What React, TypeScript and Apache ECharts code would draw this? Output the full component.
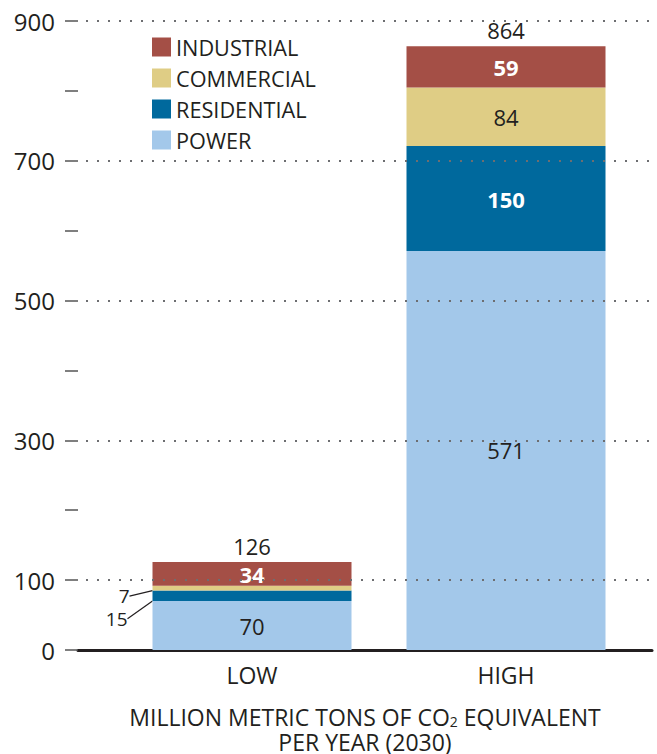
import React, { useEffect, useRef } from 'react';
import * as echarts from 'echarts';

const categories = ['LOW', 'HIGH'];
const power = [70, 571];
const residential = [15, 150];
const commercial = [7, 84];
const industrial = [34, 59];
const yLabelledTicks = [0, 100, 300, 500, 700, 900];
const gridLineValues = [100, 300, 500, 700, 900];
const legendOrder = ['INDUSTRIAL', 'COMMERCIAL', 'RESIDENTIAL', 'POWER'];
const titleLine1 = 'MILLION METRIC TONS OF CO{sub|2} EQUIVALENT';
const titleLine2 = 'PER YEAR (2030)';

const totals = categories.map(
  (_, i) => power[i] + residential[i] + commercial[i] + industrial[i]
);

const FONT = '"Open Sans", "Noto Sans", sans-serif';
const DARK = '#231f20';
const C_POWER = '#a3c8ea';
const C_RES = '#00699d';
const C_COM = '#dfcd85';
const C_IND = '#a44f46';

const BAR_W = 199;

export default function App() {
  const ref = useRef<HTMLDivElement>(null);
  useEffect(() => {
    if (!ref.current) return;
    const chart = echarts.init(ref.current, undefined, { renderer: 'svg' });
    const outsideLabel = (dist: number) => ({
      show: true,
      position: 'left',
      distance: dist,
      color: DARK,
      fontWeight: 'normal',
      fontSize: 19,
      fontFamily: FONT,
    });
    const leader = { show: true, lineStyle: { color: DARK, width: 1.2 } };
    const titleStyle = {
      align: 'center',
      verticalAlign: 'middle',
      fill: DARK,
      fontSize: 23,
      fontFamily: FONT,
    };
    const option: any = {
      animation: false,
      textStyle: { fontFamily: FONT },
      grid: [
        { left: 78, right: 5, top: 21, bottom: 104 },
        { left: 125, right: 24, top: 21, bottom: 104 },
      ],
      xAxis: [
        {
          gridIndex: 0,
          type: 'value',
          min: 0,
          max: 1,
          axisLine: { show: true, onZero: false, lineStyle: { color: DARK, width: 3 } },
          axisTick: { show: false },
          axisLabel: { show: false },
          splitLine: { show: false },
        },
        {
          gridIndex: 1,
          type: 'category',
          data: categories,
          axisLine: { show: false },
          axisTick: { show: false },
          axisLabel: { fontSize: 23, color: DARK, margin: 13, fontFamily: FONT },
        },
      ],
      yAxis: [
        {
          gridIndex: 0,
          type: 'value',
          min: 0,
          max: 900,
          interval: 100,
          axisLine: { show: false },
          axisTick: { show: true, length: 13, lineStyle: { color: '#555', width: 1.5 } },
          axisLabel: {
            fontSize: 24,
            color: DARK,
            margin: 23,
            fontFamily: FONT,
            formatter: (v: number) => (yLabelledTicks.includes(v) ? String(v) : ''),
          },
          splitLine: { show: false },
        },
        { gridIndex: 1, type: 'value', min: 0, max: 900, show: false },
      ],
      legend: {
        data: legendOrder,
        orient: 'vertical',
        left: 152,
        top: 36,
        itemWidth: 19,
        itemHeight: 19,
        itemGap: 9,
        padding: 0,
        icon: 'rect',
        selectedMode: false,
        textStyle: { fontSize: 21.7, color: DARK, fontFamily: FONT },
      },
      graphic: [
        {
          type: 'text',
          x: 365,
          y: 717,
          style: {
            ...titleStyle,
            text: titleLine1,
            rich: {
              sub: { fontSize: 14, fontFamily: FONT, fill: DARK, verticalAlign: 'bottom', lineHeight: 16 },
            },
          },
        },
        {
          type: 'text',
          x: 365,
          y: 742,
          style: { ...titleStyle, text: titleLine2 },
        },
      ],
      series: [
        {
          type: 'line',
          xAxisIndex: 0,
          yAxisIndex: 0,
          data: [],
          silent: true,
          z: 1,
          markLine: {
            silent: true,
            symbol: ['none', 'none'],
            label: { show: false },
            emphasis: { disabled: true },
            lineStyle: { type: [2, 9], dashOffset: 3, color: '#6d6e71', width: 2 },
            data: gridLineValues.map((v) => ({ yAxis: v })),
          },
        },
        {
          name: 'POWER',
          type: 'bar',
          xAxisIndex: 1,
          yAxisIndex: 1,
          stack: 'total',
          barWidth: BAR_W,
          z: 3,
          itemStyle: { color: C_POWER },
          label: { show: true, position: 'inside', color: DARK, fontSize: 22, fontFamily: FONT },
          data: power,
        },
        {
          name: 'RESIDENTIAL',
          type: 'bar',
          xAxisIndex: 1,
          yAxisIndex: 1,
          stack: 'total',
          barWidth: BAR_W,
          z: 3,
          itemStyle: { color: C_RES },
          label: { show: true, position: 'inside', color: '#fff', fontWeight: 'bold', fontSize: 22, fontFamily: FONT },
          labelLayout: (p: any) => (p.dataIndex === 0 ? { dy: 23 } : {}),
          data: residential.map((v, i) =>
            i === 0 ? { value: v, label: outsideLabel(25), labelLine: leader } : { value: v }
          ),
        },
        {
          name: 'COMMERCIAL',
          type: 'bar',
          xAxisIndex: 1,
          yAxisIndex: 1,
          stack: 'total',
          barWidth: BAR_W,
          z: 3,
          itemStyle: { color: C_COM },
          label: { show: true, position: 'inside', color: DARK, fontSize: 22, fontFamily: FONT },
          labelLayout: (p: any) => (p.dataIndex === 0 ? { dy: 8 } : {}),
          data: commercial.map((v, i) =>
            i === 0 ? { value: v, label: outsideLabel(23), labelLine: leader } : { value: v }
          ),
        },
        {
          name: 'INDUSTRIAL',
          type: 'bar',
          xAxisIndex: 1,
          yAxisIndex: 1,
          stack: 'total',
          barWidth: BAR_W,
          z: 3,
          itemStyle: { color: C_IND },
          label: { show: true, position: 'inside', color: '#fff', fontWeight: 'bold', fontSize: 22, fontFamily: FONT },
          data: industrial,
        },
        {
          name: 'TOTAL',
          type: 'bar',
          xAxisIndex: 1,
          yAxisIndex: 1,
          stack: 'total',
          barWidth: BAR_W,
          z: 3,
          silent: true,
          itemStyle: { color: 'transparent' },
          label: {
            show: true,
            position: 'top',
            distance: 5,
            color: DARK,
            fontSize: 22,
            fontFamily: FONT,
            formatter: (p: any) => String(totals[p.dataIndex]),
          },
          data: categories.map(() => 0),
        },
      ],
    };
    chart.setOption(option);
    return () => chart.dispose();
  }, []);
  return (
    <div
      ref={ref}
      style={{ position: 'fixed', left: 0, top: 0, width: 657, height: 754, background: '#fff' }}
    />
  );
}
